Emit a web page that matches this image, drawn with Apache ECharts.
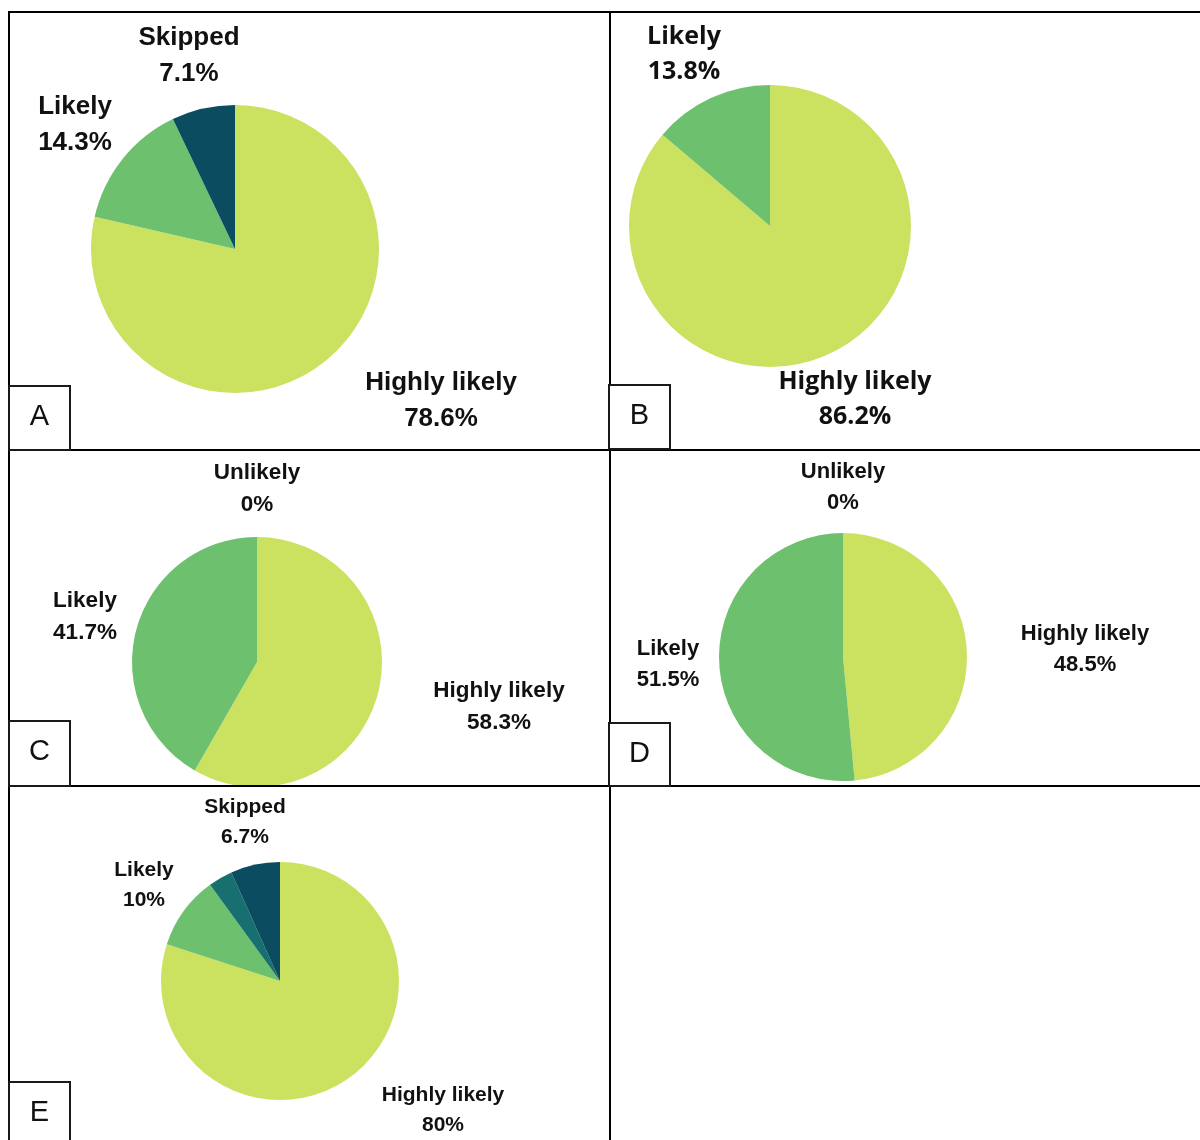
<!DOCTYPE html>
<html>
<head>
<meta charset="utf-8">
<title>Likelihood responses by group</title>
<script src="https://cdn.jsdelivr.net/npm/echarts@6/dist/echarts.min.js"></script>
<style>
  html, body { margin: 0; padding: 0; background: #ffffff; }
  #chart { width: 1200px; height: 1140px; }
</style>
</head>
<body>
<div id="chart"></div>
<script>
// Response categories, in the clockwise order the slices are drawn from 12 o'clock
const categories = ['Highly likely', 'Likely', 'Unlikely', 'Skipped'];

// Percentages per panel (null = category not present in that panel)
const panelA = [78.6, 14.3, null, 7.1];
const panelB = [86.2, 13.8, null, null];
const panelC = [58.3, 41.7, 0, null];
const panelD = [48.5, 51.5, 0, null];
const panelE = [80, 10, 3.3, 6.7];

// Categories whose slice carries no label in a panel
const unlabeledE = ['Unlikely'];

const panelLetters = ['A', 'B', 'C', 'D', 'E'];

const colors = {
  'Highly likely': '#cbe160',
  'Likely': '#6dc06d',
  'Unlikely': '#17706f',
  'Skipped': '#0b4c60'
};

// Layout of each panel: pie centre/radius, label anchors and label font
const layout = [
  { center: [235, 249], radius: 144, font: 'Liberation Sans', size: 26, lh: 36,
    labels: { 'Highly likely': [441, 401], 'Likely': [75, 125], 'Skipped': [189, 56] } },
  { center: [770, 226], radius: 141, font: 'Open Sans', size: 25, lh: 35,
    labels: { 'Highly likely': [855, 399], 'Likely': [684, 54] } },
  { center: [257, 662], radius: 125, font: 'Liberation Sans', size: 22.5, lh: 32,
    labels: { 'Highly likely': [499, 707], 'Likely': [85, 617], 'Unlikely': [257, 489] } },
  { center: [843, 657], radius: 124, font: 'Liberation Sans', size: 22, lh: 31,
    labels: { 'Highly likely': [1085, 649], 'Likely': [668, 664], 'Unlikely': [843, 487] } },
  { center: [280, 981], radius: 119, font: 'Liberation Sans', size: 21, lh: 30,
    labels: { 'Highly likely': [443, 1110], 'Likely': [144, 885], 'Skipped': [245, 822] } }
];

const panels = [panelA, panelB, panelC, panelD, panelE];
const hidden = [[], [], [], [], unlabeledE];

function buildData(values, hiddenNames) {
  const out = [];
  values.forEach(function (v, i) {
    if (v === null) return;
    const name = categories[i];
    const item = { name: name, value: v, itemStyle: { color: colors[name] } };
    if (hiddenNames.indexOf(name) >= 0) item.label = { show: false };
    out.push(item);
  });
  return out;
}

const series = panels.map(function (values, p) {
  const L = layout[p];
  const data = buildData(values, hidden[p]);
  return {
    type: 'pie',
    center: L.center,
    radius: L.radius,
    startAngle: 90,
    clockwise: true,
    avoidLabelOverlap: false,
    silent: true,
    stillShowZeroSum: true,
    minShowLabelAngle: 0,
    itemStyle: { borderWidth: 0 },
    emphasis: { disabled: true },
    labelLine: { show: false },
    label: {
      show: true,
      formatter: function (params) { return params.name + '\n' + params.value + '%'; },
      fontFamily: L.font,
      fontWeight: 'bold',
      fontSize: L.size,
      lineHeight: L.lh,
      color: '#111111',
      align: 'center'
    },
    labelLayout: function (params) {
      const name = data[params.dataIndex].name;
      const pos = L.labels[name];
      if (!pos) return {};
      return { x: pos[0], y: pos[1], align: 'center', verticalAlign: 'middle' };
    },
    data: data
  };
});

// Panel frame: outer edges and dividers
const frameColor = '#000000';
const frameLines = [
  [8, 12, 1200, 12],
  [9, 12, 9, 1140],
  [610, 12, 610, 1140],
  [9, 450, 1200, 450],
  [9, 786, 1200, 786]
];
const graphic = frameLines.map(function (l) {
  return {
    type: 'line',
    shape: { x1: l[0], y1: l[1], x2: l[2], y2: l[3] },
    style: { stroke: frameColor, lineWidth: 2 },
    z: 10
  };
});

// Letter tags in the lower-left corner of each panel
const tagBoxes = [
  [9, 386, 61, 64],
  [609, 385, 61, 64],
  [9, 721, 61, 65],
  [609, 723, 61, 63],
  [9, 1082, 61, 60]
];
tagBoxes.forEach(function (b, i) {
  graphic.push({
    type: 'rect',
    shape: { x: b[0], y: b[1], width: b[2], height: b[3] },
    style: { fill: '#ffffff', stroke: '#1a1a1a', lineWidth: 2 },
    z: 20
  });
  graphic.push({
    type: 'text',
    x: b[0] + b[2] / 2,
    y: b[1] + 31,
    style: {
      text: panelLetters[i],
      font: '29px "Liberation Sans", Arial, sans-serif',
      fill: '#111111',
      align: 'center',
      verticalAlign: 'middle'
    },
    z: 21
  });
});

const chart = echarts.init(document.getElementById('chart'), null, { renderer: 'canvas' });
chart.setOption({
  backgroundColor: '#ffffff',
  animation: false,
  series: series,
  graphic: graphic
});
</script>
</body>
</html>
